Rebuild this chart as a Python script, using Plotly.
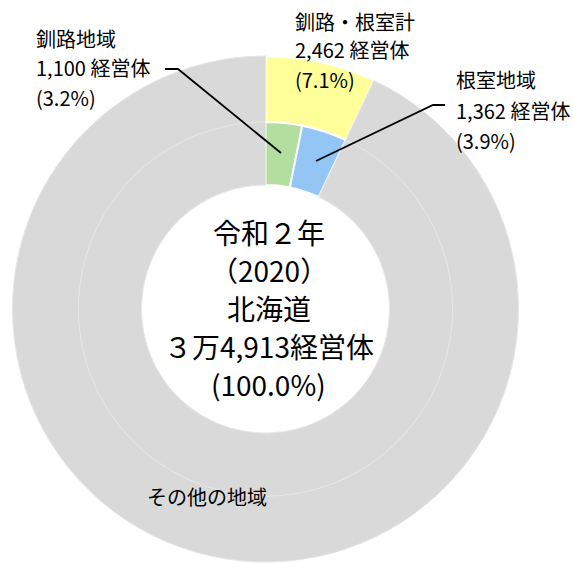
import plotly.graph_objects as go

W, H = 573, 564

# Data
outer_labels = ["釧路・根室計", "その他の地域"]
outer_values = [2462, 32451]
inner_labels = ["釧路地域", "根室地域", "その他の地域"]
inner_values = [1100, 1362, 32451]
total = 34913

outer_colors = ["#FFFF99", "#D9D9D9"]
inner_colors = ["#B2DEA0", "#93C5F5", "#D9D9D9"]

FONT = "Noto Sans CJK JP"

def px(x):
    return x / W

def py(y):
    return 1 - y / H

cx, cy = 265.5, 309
R_out, R_mid, R_hole = 253, 187, 124

fig = go.Figure()
fig.add_trace(go.Pie(
    labels=outer_labels, values=outer_values, sort=False, direction="clockwise",
    rotation=0, hole=R_mid / R_out, textinfo="none", hoverinfo="label+value+percent",
    marker=dict(colors=outer_colors, line=dict(color=["#FFFFFF", "#E6E6E6"], width=[2, 1])),
    domain=dict(x=[px(cx - R_out), px(cx + R_out)], y=[py(cy + R_out), py(cy - R_out)]),
    showlegend=False,
))
fig.add_trace(go.Pie(
    labels=inner_labels, values=inner_values, sort=False, direction="clockwise",
    rotation=0, hole=R_hole / R_mid, textinfo="none", hoverinfo="label+value+percent",
    marker=dict(colors=inner_colors, line=dict(color=["#FFFFFF", "#FFFFFF", "#E6E6E6"], width=[2, 2, 1])),
    domain=dict(x=[px(cx - R_mid), px(cx + R_mid)], y=[py(cy + R_mid), py(cy - R_mid)]),
    showlegend=False,
))

annotations = []

def add_line(text, x, y, size, anchor="left"):
    annotations.append(dict(
        text=text, x=px(x), y=py(y), xref="paper", yref="paper",
        xanchor=anchor, yanchor="middle", showarrow=False,
        font=dict(family=FONT, size=size, color="#000000"),
    ))

# Center text
center_lines = ["令和２年", "（2020）", "北海道", "３万4,913経営体", "(100.0%)"]
for i, t in enumerate(center_lines):
    add_line(t, cx + 3, 232 + i * 38, 28, "center")

# 釧路地域 label
kushiro = ["釧路地域", "1,100 経営体", "(3.2%)"]
for i, t in enumerate(kushiro):
    add_line(t, 34, 38 + i * 29.5, 20)

# 釧路・根室計 label
total_lbl = ["釧路・根室計", "2,462 経営体", "(7.1%)"]
for i, t in enumerate(total_lbl):
    add_line(t, 293, 21 + i * 29, 20)

# 根室地域 label
nemuro = ["根室地域", "1,362 経営体", "(3.9%)"]
for i, t in enumerate(nemuro):
    add_line(t, 454, 80 + i * 30, 20)

# その他の地域
add_line("その他の地域", 207, 496, 20, "center")

shapes = [
    dict(type="path", xref="paper", yref="paper",
         path=f"M {px(165)} {py(69)} L {px(178)} {py(69)} L {px(281)} {py(153)}",
         line=dict(color="#000000", width=1.8)),
    dict(type="path", xref="paper", yref="paper",
         path=f"M {px(445)} {py(105)} L {px(433)} {py(105)} L {px(316)} {py(161)}",
         line=dict(color="#000000", width=1.8)),
]

fig.update_layout(
    width=W, height=H, margin=dict(l=0, r=0, t=0, b=0),
    paper_bgcolor="#FFFFFF", plot_bgcolor="#FFFFFF",
    annotations=annotations, shapes=shapes,
    font=dict(family=FONT),
)

fig.write_html("out.html", config={"displayModeBar": False},
               post_script="document.body.style.margin='0';")
